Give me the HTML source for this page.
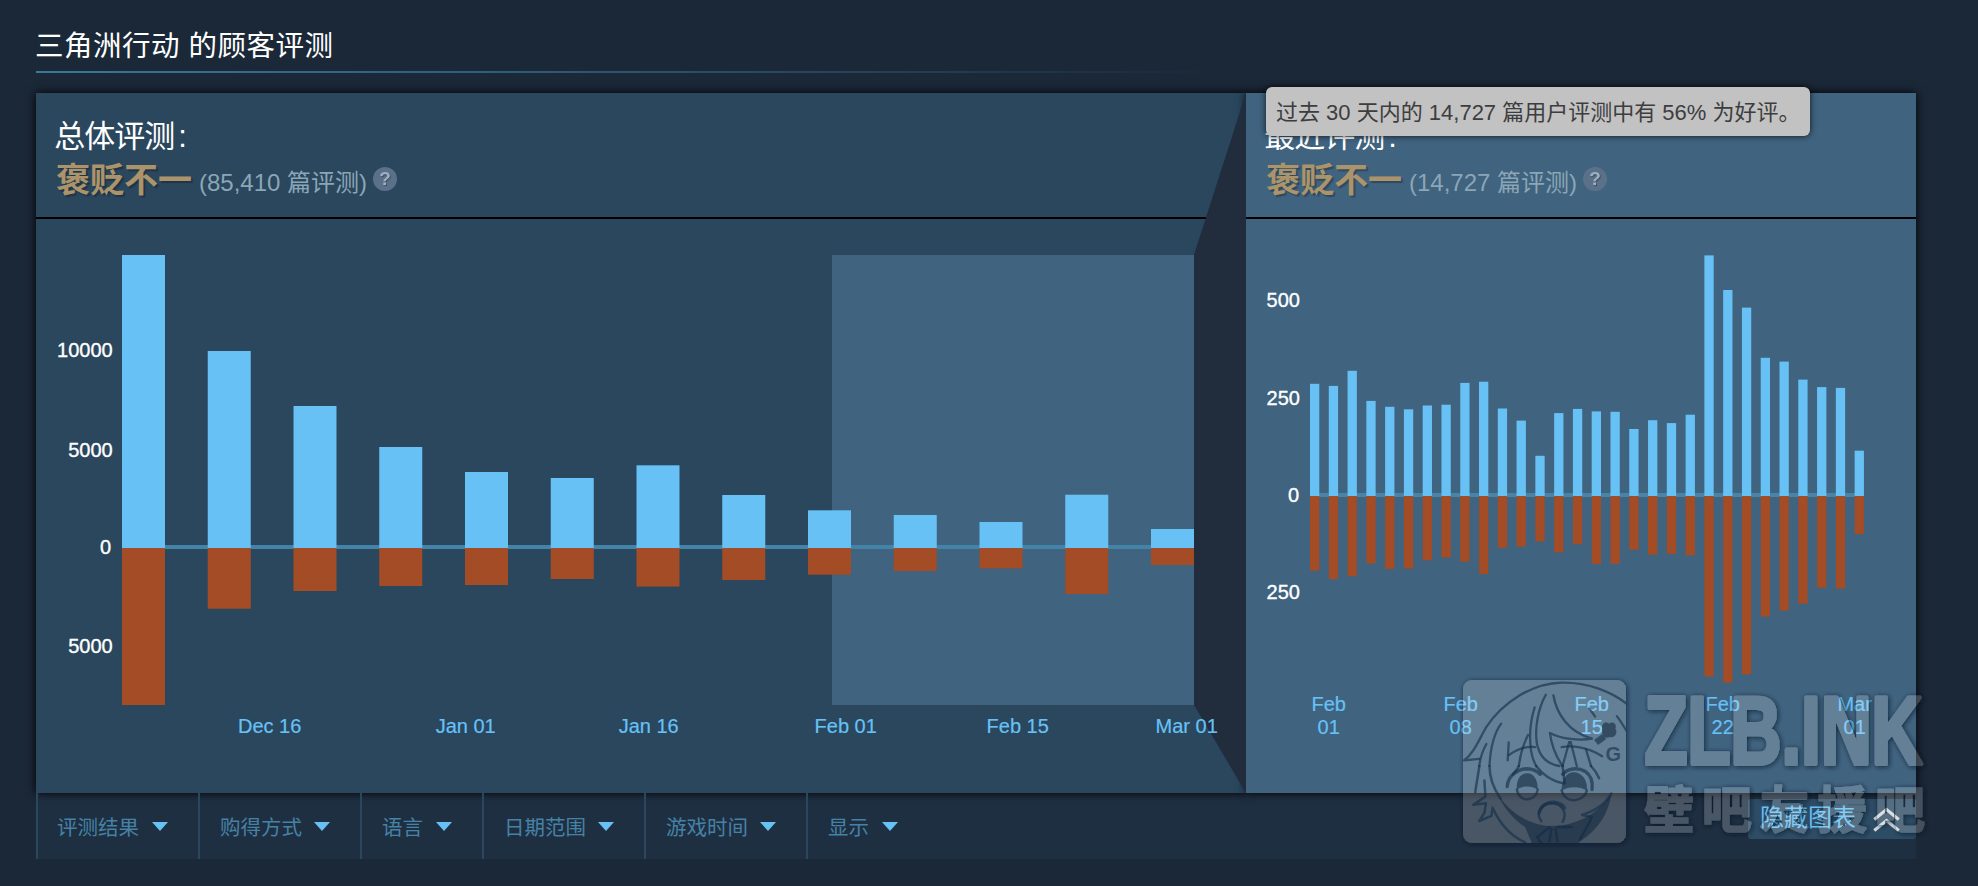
<!DOCTYPE html>
<html lang="zh-CN">
<head>
<meta charset="utf-8">
<title>三角洲行动 的顾客评测</title>
<style>
html,body{margin:0;padding:0;}
body{width:1978px;height:886px;overflow:hidden;background:#1b2838;position:relative;
 font-family:"Liberation Sans","Noto Sans CJK SC",sans-serif;color:#fff;}
.abs{position:absolute;white-space:nowrap;}
#title{left:35px;top:25.7px;font-size:28.5px;line-height:40px;letter-spacing:0.5px;color:#fff;}
#rule{left:36px;top:71px;width:1180px;height:2px;background:linear-gradient(to right,#3a7799 0%,#2e5d7a 40%,rgba(27,40,56,0) 100%);}
#panelL{left:36px;top:93px;width:1210px;height:700px;background:#2a475e;box-shadow:0 0 9px #000;}
#panelR{left:1246px;top:93px;width:670px;height:700px;background:#40637f;box-shadow:0 0 9px #000;}
.hline{height:2px;background:#000;top:217px;}
#sel{left:831.8px;top:254.7px;width:362.2px;height:450.4px;background:#40637f;}
svg{position:absolute;left:0;top:0;}
.sumtitle{font-size:31px;line-height:40px;letter-spacing:-1px;color:#fff;}
.sumtitle span{margin-left:4px;}
.sumval{font-size:34px;line-height:44px;font-weight:bold;color:#ab946b;text-shadow:2px 2px 1px rgba(0,0,0,.25);}
.sumcnt{font-size:24px;line-height:32px;color:#8ba6b6;}
.q{width:24px;height:24px;border-radius:12px;background:#5b7189;color:#9db0c2;font-size:19px;font-weight:bold;line-height:24px;text-align:center;text-shadow:1px 1px 1px rgba(0,0,0,.3);filter:blur(.5px);}
.yl{font-size:20px;line-height:24px;color:#fff;text-align:right;-webkit-text-stroke:.35px #fff;}
.xl{font-size:20px;line-height:23px;color:#67c1f5;text-align:center;-webkit-text-stroke:.2px #67c1f5;}
#filter{left:36px;top:793px;width:1880px;height:66px;background:#1f2f42;}
.fi{top:793px;height:66px;border-left:2px solid #2a475e;box-sizing:border-box;}
.ft{top:813px;font-size:20.5px;line-height:30px;color:#4582a5;}
.arr{top:822px;width:0;height:0;border-left:8px solid transparent;border-right:8px solid transparent;border-top:9px solid #67c1f5;}
#tip{left:1266px;top:87px;width:544px;height:49px;background:#c2c2c2;border-radius:6px;box-shadow:0 0 6px rgba(0,0,0,.8);color:#3d3d3f;font-size:22px;line-height:51px;text-indent:10px;}
#hide{left:1748px;top:799px;width:168px;height:40px;background:rgba(103,193,245,.2);border-radius:3px;}
#hidet{left:1760px;top:801px;font-size:24px;line-height:34px;color:#67c1f5;}

</style>
</head>
<body>
<div class="abs" id="title">三角洲行动 的顾客评测</div>
<div class="abs" id="rule"></div>
<div class="abs" id="filter"></div>
<div class="abs" id="panelL"></div>
<div class="abs" id="sel"></div>
<div class="abs" id="panelR"></div>
<div class="abs hline" style="left:36px;width:1210px;"></div>
<div class="abs hline" style="left:1246px;width:670px;"></div>
<svg width="1978" height="886" viewBox="0 0 1978 886">
<polygon points="1246,93 1246,793 1194,705.1 1194,254.7" fill="#212c3d"/>
<rect x="122" y="545" width="1072" height="4" fill="#4483a8"/>
<rect x="1310" y="493" width="554" height="4" fill="#4884a6"/>
<rect x="122.00" y="255.00" width="43" height="293.00" fill="#67c1f5"/>
<rect x="122.00" y="548.00" width="43" height="157.00" fill="#a34c25"/>
<rect x="207.75" y="351.00" width="43" height="197.00" fill="#67c1f5"/>
<rect x="207.75" y="548.00" width="43" height="60.70" fill="#a34c25"/>
<rect x="293.50" y="406.00" width="43" height="142.00" fill="#67c1f5"/>
<rect x="293.50" y="548.00" width="43" height="43.00" fill="#a34c25"/>
<rect x="379.25" y="447.00" width="43" height="101.00" fill="#67c1f5"/>
<rect x="379.25" y="548.00" width="43" height="38.00" fill="#a34c25"/>
<rect x="465.00" y="472.00" width="43" height="76.00" fill="#67c1f5"/>
<rect x="465.00" y="548.00" width="43" height="37.00" fill="#a34c25"/>
<rect x="550.75" y="478.00" width="43" height="70.00" fill="#67c1f5"/>
<rect x="550.75" y="548.00" width="43" height="31.00" fill="#a34c25"/>
<rect x="636.50" y="465.30" width="43" height="82.70" fill="#67c1f5"/>
<rect x="636.50" y="548.00" width="43" height="38.60" fill="#a34c25"/>
<rect x="722.25" y="495.00" width="43" height="53.00" fill="#67c1f5"/>
<rect x="722.25" y="548.00" width="43" height="32.00" fill="#a34c25"/>
<rect x="808.00" y="510.30" width="43" height="37.70" fill="#67c1f5"/>
<rect x="808.00" y="548.00" width="43" height="26.70" fill="#a34c25"/>
<rect x="893.75" y="515.00" width="43" height="33.00" fill="#67c1f5"/>
<rect x="893.75" y="548.00" width="43" height="23.00" fill="#a34c25"/>
<rect x="979.50" y="522.00" width="43" height="26.00" fill="#67c1f5"/>
<rect x="979.50" y="548.00" width="43" height="20.40" fill="#a34c25"/>
<rect x="1065.25" y="494.70" width="43" height="53.30" fill="#67c1f5"/>
<rect x="1065.25" y="548.00" width="43" height="46.00" fill="#a34c25"/>
<rect x="1151.00" y="529.00" width="43" height="19.00" fill="#67c1f5"/>
<rect x="1151.00" y="548.00" width="43" height="17.00" fill="#a34c25"/>
<rect x="1310.00" y="383.80" width="9.3" height="112.20" fill="#67c1f5"/>
<rect x="1310.00" y="496.00" width="9.3" height="74.70" fill="#a34c25"/>
<rect x="1328.78" y="385.90" width="9.3" height="110.10" fill="#67c1f5"/>
<rect x="1328.78" y="496.00" width="9.3" height="83.00" fill="#a34c25"/>
<rect x="1347.56" y="370.80" width="9.3" height="125.20" fill="#67c1f5"/>
<rect x="1347.56" y="496.00" width="9.3" height="80.20" fill="#a34c25"/>
<rect x="1366.34" y="400.90" width="9.3" height="95.10" fill="#67c1f5"/>
<rect x="1366.34" y="496.00" width="9.3" height="67.40" fill="#a34c25"/>
<rect x="1385.12" y="406.80" width="9.3" height="89.20" fill="#67c1f5"/>
<rect x="1385.12" y="496.00" width="9.3" height="72.90" fill="#a34c25"/>
<rect x="1403.90" y="409.30" width="9.3" height="86.70" fill="#67c1f5"/>
<rect x="1403.90" y="496.00" width="9.3" height="72.50" fill="#a34c25"/>
<rect x="1422.68" y="405.50" width="9.3" height="90.50" fill="#67c1f5"/>
<rect x="1422.68" y="496.00" width="9.3" height="64.20" fill="#a34c25"/>
<rect x="1441.46" y="404.70" width="9.3" height="91.30" fill="#67c1f5"/>
<rect x="1441.46" y="496.00" width="9.3" height="61.50" fill="#a34c25"/>
<rect x="1460.24" y="382.90" width="9.3" height="113.10" fill="#67c1f5"/>
<rect x="1460.24" y="496.00" width="9.3" height="65.60" fill="#a34c25"/>
<rect x="1479.02" y="381.70" width="9.3" height="114.30" fill="#67c1f5"/>
<rect x="1479.02" y="496.00" width="9.3" height="78.00" fill="#a34c25"/>
<rect x="1497.80" y="408.50" width="9.3" height="87.50" fill="#67c1f5"/>
<rect x="1497.80" y="496.00" width="9.3" height="51.80" fill="#a34c25"/>
<rect x="1516.58" y="420.60" width="9.3" height="75.40" fill="#67c1f5"/>
<rect x="1516.58" y="496.00" width="9.3" height="50.50" fill="#a34c25"/>
<rect x="1535.36" y="455.80" width="9.3" height="40.20" fill="#67c1f5"/>
<rect x="1535.36" y="496.00" width="9.3" height="45.40" fill="#a34c25"/>
<rect x="1554.14" y="413.10" width="9.3" height="82.90" fill="#67c1f5"/>
<rect x="1554.14" y="496.00" width="9.3" height="56.40" fill="#a34c25"/>
<rect x="1572.92" y="408.90" width="9.3" height="87.10" fill="#67c1f5"/>
<rect x="1572.92" y="496.00" width="9.3" height="48.20" fill="#a34c25"/>
<rect x="1591.70" y="411.40" width="9.3" height="84.60" fill="#67c1f5"/>
<rect x="1591.70" y="496.00" width="9.3" height="67.90" fill="#a34c25"/>
<rect x="1610.48" y="411.80" width="9.3" height="84.20" fill="#67c1f5"/>
<rect x="1610.48" y="496.00" width="9.3" height="67.90" fill="#a34c25"/>
<rect x="1629.26" y="429.00" width="9.3" height="67.00" fill="#67c1f5"/>
<rect x="1629.26" y="496.00" width="9.3" height="53.70" fill="#a34c25"/>
<rect x="1648.04" y="420.20" width="9.3" height="75.80" fill="#67c1f5"/>
<rect x="1648.04" y="496.00" width="9.3" height="58.70" fill="#a34c25"/>
<rect x="1666.82" y="423.10" width="9.3" height="72.90" fill="#67c1f5"/>
<rect x="1666.82" y="496.00" width="9.3" height="57.80" fill="#a34c25"/>
<rect x="1685.60" y="414.70" width="9.3" height="81.30" fill="#67c1f5"/>
<rect x="1685.60" y="496.00" width="9.3" height="59.20" fill="#a34c25"/>
<rect x="1704.38" y="255.40" width="9.3" height="240.60" fill="#67c1f5"/>
<rect x="1704.38" y="496.00" width="9.3" height="180.60" fill="#a34c25"/>
<rect x="1723.16" y="290.00" width="9.3" height="206.00" fill="#67c1f5"/>
<rect x="1723.16" y="496.00" width="9.3" height="186.60" fill="#a34c25"/>
<rect x="1741.94" y="307.60" width="9.3" height="188.40" fill="#67c1f5"/>
<rect x="1741.94" y="496.00" width="9.3" height="178.30" fill="#a34c25"/>
<rect x="1760.72" y="357.80" width="9.3" height="138.20" fill="#67c1f5"/>
<rect x="1760.72" y="496.00" width="9.3" height="120.60" fill="#a34c25"/>
<rect x="1779.50" y="361.60" width="9.3" height="134.40" fill="#67c1f5"/>
<rect x="1779.50" y="496.00" width="9.3" height="114.60" fill="#a34c25"/>
<rect x="1798.28" y="379.60" width="9.3" height="116.40" fill="#67c1f5"/>
<rect x="1798.28" y="496.00" width="9.3" height="107.70" fill="#a34c25"/>
<rect x="1817.06" y="387.10" width="9.3" height="108.90" fill="#67c1f5"/>
<rect x="1817.06" y="496.00" width="9.3" height="91.70" fill="#a34c25"/>
<rect x="1835.84" y="387.90" width="9.3" height="108.10" fill="#67c1f5"/>
<rect x="1835.84" y="496.00" width="9.3" height="92.60" fill="#a34c25"/>
<rect x="1854.62" y="450.70" width="9.3" height="45.30" fill="#67c1f5"/>
<rect x="1854.62" y="496.00" width="9.3" height="38.10" fill="#a34c25"/>
</svg>
<div class="abs sumtitle" style="left:54.3px;top:117.2px;">总体评测<span>:</span></div>
<div class="abs sumval" style="left:56px;top:158px;">褒贬不一</div>
<div class="abs sumcnt" style="left:199px;top:167px;">(85,410 篇评测)</div>
<div class="abs q" style="left:373px;top:167px;">?</div>
<div class="abs sumtitle" style="left:1264.3px;top:117.2px;">最近评测<span>:</span></div>
<div class="abs sumval" style="left:1266px;top:158px;">褒贬不一</div>
<div class="abs sumcnt" style="left:1409px;top:167px;">(14,727 篇评测)</div>
<div class="abs q" style="left:1583px;top:167px;">?</div>

<div class="abs yl" style="left:40.7px;width:72px;top:337.5px;">10000</div>
<div class="abs yl" style="left:40.7px;width:72px;top:437.5px;">5000</div>
<div class="abs yl" style="left:39px;width:72px;top:534.7px;">0</div>
<div class="abs yl" style="left:40.7px;width:72px;top:633.5px;">5000</div>
<div class="abs xl" style="left:219.7px;width:100px;top:714.6px;">Dec 16</div>
<div class="abs xl" style="left:415.7px;width:100px;top:714.6px;">Jan 01</div>
<div class="abs xl" style="left:598.7px;width:100px;top:714.6px;">Jan 16</div>
<div class="abs xl" style="left:795.7px;width:100px;top:714.6px;">Feb 01</div>
<div class="abs xl" style="left:967.7px;width:100px;top:714.6px;">Feb 15</div>
<div class="abs xl" style="left:1136.7px;width:100px;top:714.6px;">Mar 01</div>

<div class="abs yl" style="left:1239.9px;width:60px;top:287.5px;">500</div>
<div class="abs yl" style="left:1239.9px;width:60px;top:385.5px;">250</div>
<div class="abs yl" style="left:1239.2px;width:60px;top:483.2px;">0</div>
<div class="abs yl" style="left:1239.9px;width:60px;top:579.5px;">250</div>
<div class="abs xl" style="left:1298.7px;width:60px;top:692.6px;white-space:normal;">Feb 01</div>
<div class="abs xl" style="left:1430.7px;width:60px;top:692.6px;white-space:normal;">Feb 08</div>
<div class="abs xl" style="left:1561.7px;width:60px;top:692.6px;white-space:normal;">Feb 15</div>
<div class="abs xl" style="left:1692.7px;width:60px;top:692.6px;white-space:normal;">Feb 22</div>
<div class="abs xl" style="left:1824.7px;width:60px;top:692.6px;white-space:normal;">Mar 01</div>

<div class="abs fi" style="left:36px;width:163px;"></div>
<div class="abs fi" style="left:198px;width:163px;"></div>
<div class="abs fi" style="left:360px;width:123px;"></div>
<div class="abs fi" style="left:482px;width:163px;"></div>
<div class="abs fi" style="left:644px;width:163px;"></div>
<div class="abs fi" style="left:806px;width:120px;"></div>
<div class="abs ft" style="left:57px;">评测结果</div><div class="abs arr" style="left:152px;"></div>
<div class="abs ft" style="left:220px;">购得方式</div><div class="abs arr" style="left:314px;"></div>
<div class="abs ft" style="left:382px;">语言</div><div class="abs arr" style="left:436px;"></div>
<div class="abs ft" style="left:504px;">日期范围</div><div class="abs arr" style="left:598px;"></div>
<div class="abs ft" style="left:666px;">游戏时间</div><div class="abs arr" style="left:760px;"></div>
<div class="abs ft" style="left:828px;">显示</div><div class="abs arr" style="left:882px;"></div>

<div class="abs" id="hide"></div>
<div class="abs" id="hidet">隐藏图表</div>
<div class="abs" id="tip">过去 30 天内的 14,727 篇用户评测中有 56% 为好评。</div>
<svg width="1978" height="886" viewBox="0 0 1978 886" style="pointer-events:none">
<g fill="none" stroke="#fff" stroke-width="3.2" stroke-linecap="square" stroke-linejoin="miter" opacity=".78" style="filter:blur(.7px)">
<polyline points="1875.5,818.5 1886.5,809.5 1897.5,818.5"/>
<polyline points="1875.5,829.5 1886.5,820.5 1897.5,829.5"/>
</g>
</svg>
<svg id="wm" width="1978" height="886" viewBox="0 0 1978 886" style="pointer-events:none">
<defs>
<filter id="wsh" x="-5%" y="-10%" width="110%" height="125%">
<feComponentTransfer in="SourceAlpha" result="bin"><feFuncA type="linear" slope="8"/></feComponentTransfer>
<feGaussianBlur in="bin" stdDeviation="2.4" result="b"/>
<feOffset in="b" dx="0.5" dy="1" result="o"/>
<feComposite in="o" in2="bin" operator="out" result="ring"/>
<feComponentTransfer in="ring" result="s"><feFuncA type="linear" slope="0.75"/></feComponentTransfer>
<feFlood flood-color="#0b1826"/><feComposite in2="s" operator="in" result="sh"/>
<feMerge><feMergeNode in="sh"/><feMergeNode in="SourceGraphic"/></feMerge>
</filter>
<clipPath id="wclip"><rect x="1463" y="680" width="163" height="163" rx="9"/></clipPath>
</defs>
<g filter="url(#wsh)">
<g opacity=".19" fill="#fff" stroke="#fff" stroke-linejoin="round">
<rect x="1463" y="680" width="163" height="163" rx="9" stroke="none"/>
<text x="1644.5" y="764.3" font-family="'Liberation Sans','Noto Sans CJK SC',sans-serif" font-weight="bold" font-size="96" textLength="278" lengthAdjust="spacingAndGlyphs" stroke-width="4">ZLB.INK</text>
<text x="1644" y="828" font-family="'Noto Sans CJK SC','Liberation Sans',sans-serif" font-weight="700" font-size="50" textLength="281" lengthAdjust="spacing" stroke-width="1.6">壁吧友援吧</text>
</g>
</g>
<g clip-path="url(#wclip)">
<g fill="none" stroke="#16304a" stroke-opacity=".65" stroke-width="2.3" stroke-linecap="round" stroke-linejoin="round">
<path d="M 1630.0,706.5 C 1612.3,691.2 1586.9,682.1 1561.6,682.6 C 1531.1,683.6 1502.7,702.4 1486.4,726.8 C 1478.3,741.0 1473.2,754.2 1464.1,760.3 L 1479.3,758.8"/>
<path d="M 1501.1,723.7 C 1494.5,732.9 1490.5,745.1 1489.5,766.0"/>
<path d="M 1486.4,744.0 C 1483.4,749.1 1480.3,757.2 1479.3,766.0"/>
<path d="M 1545.8,694.8 C 1538.2,708.5 1534.1,728.8 1537.2,745.1 C 1540.2,757.2 1548.4,764.4 1559.5,766.0"/>
<path d="M 1534.6,707.5 C 1530.1,721.7 1529.1,736.9 1531.1,751.1 C 1532.1,757.2 1534.1,762.3 1536.2,766.0"/>
<path d="M 1553.4,695.3 C 1556.5,714.6 1569.7,732.9 1592.0,738.5 C 1579.8,741.0 1561.6,739.0 1549.9,732.9 C 1551.4,745.1 1556.5,757.2 1562.6,766.0"/>
<path d="M 1595.1,716.6 C 1593.0,713.6 1591.0,710.5 1589.0,708.5"/>
<path d="M 1508.7,755.2 C 1516.9,749.1 1526.0,746.1 1535.1,747.1"/>
<path d="M 1508.7,742.5 L 1507.7,760.3"/>
<path d="M 1528.0,734.9 C 1523.0,745.1 1519.9,755.2 1518.9,766.0"/>
<path d="M 1561.6,747.1 C 1571.7,745.1 1586.9,747.1 1602.2,756.2"/>
<path d="M 1569.2,742.0 L 1562.6,766.0"/>
<path d="M 1570.7,742.0 L 1576.8,766.0"/>
<path d="M 1585.9,749.1 L 1591.0,766.0"/>
<path d="M 1616.9,716.1 C 1622.5,723.7 1626.5,730.8 1630.0,736.9"/>
<g stroke-width="2.5">
<path d="M 1489.5,766.0 C 1489.5,776.3 1493.5,788.5 1500.6,798.7"/>
<path d="M 1479.3,766.0 C 1478.3,774.3 1476.2,784.4 1475.2,792.6"/>
<path d="M 1518.9,766.0 C 1517.9,768.2 1515.9,771.2 1512.8,774.3"/>
<path d="M 1536.2,766.0 C 1541.2,773.3 1551.4,781.4 1564.6,783.4 L 1562.6,766.0"/>
<path d="M 1591.0,766.0 C 1594.1,769.2 1597.1,773.3 1599.1,778.3"/>
<path d="M 1484.4,780.4 L 1485.4,796.6 L 1473.2,804.7 L 1485.9,803.2 L 1484.4,812.9 L 1479.3,821.0 L 1491.5,815.9 L 1492.5,807.8 C 1500.6,825.1 1512.8,837.2 1525.0,842.3"/>
<path d="M 1611.3,793.6 C 1606.2,802.7 1595.1,810.8 1581.9,814.9 L 1592.0,816.9 C 1586.9,827.1 1583.9,833.2 1579.8,839.3"/>
<path d="M 1541.2,821.0 C 1535.1,812.9 1541.2,803.7 1551.4,803.2 C 1562.6,803.7 1567.6,812.9 1562.6,822.0"/>
<path d="M 1516.9,789.5 C 1517.9,796.6 1523.0,799.7 1528.0,799.2 C 1533.1,798.7 1537.2,794.6 1537.7,789.5"/>
<path d="M 1561.6,790.5 C 1563.6,797.6 1569.7,800.7 1574.8,800.2 C 1580.8,799.7 1585.9,795.6 1586.9,790.5"/>
<path d="M 1549.4,827.1 L 1537.2,837.2 L 1541.2,843.3"/>
<path d="M 1557.5,827.1 L 1571.7,827.1"/>
<path d="M 1551.4,829.1 L 1549.4,841.3"/>
<path d="M 1555.5,829.1 L 1557.5,841.3"/>
</g>
<g stroke-width="3.4">
<path d="M 1507.2,786.5 C 1507.7,776.3 1516.9,769.2 1527.0,768.7 C 1533.1,768.7 1537.2,771.2 1540.2,774.3"/>
<path d="M 1562.6,774.3 C 1567.6,768.2 1577.8,767.2 1584.9,771.2 C 1591.0,775.3 1593.0,782.4 1592.0,789.5"/>
<path d="M 1539.2,812.9 C 1541.2,804.7 1548.4,801.7 1554.4,802.2 C 1559.5,802.7 1562.6,804.7 1564.6,807.8"/>
</g>
<g stroke="none" fill="#14293f" fill-opacity=".6">
<path d="M 1497.6,793.6 C 1505.7,808.8 1526.0,825.1 1551.4,826.1 C 1576.8,826.1 1600.1,812.9 1611.3,793.6 C 1609.3,812.9 1598.1,829.1 1581.9,840.3 L 1574.8,846.0 L 1533.1,846.0 L 1525.0,827.1 C 1512.8,819.0 1502.7,806.8 1497.6,793.6 Z"/>
<path d="M 1516.9,789.5 C 1515.9,779.4 1520.9,773.3 1527.0,773.3 C 1534.1,773.3 1538.2,780.4 1537.7,789.5 C 1531.1,785.5 1523.0,785.5 1516.9,789.5 Z"/>
<path d="M 1561.6,790.5 C 1561.6,779.4 1566.6,772.2 1573.7,772.2 C 1581.9,772.2 1588.0,780.4 1586.9,790.5 C 1579.8,786.0 1568.7,786.0 1561.6,790.5 Z"/>
<path d="M 1594.1,740.0 L 1602.2,733.9 L 1606.2,739.0 L 1598.1,745.1 Z"/>
<path d="M 1602.2,728.8 C 1601.2,723.7 1605.2,720.7 1609.3,723.7 C 1612.3,720.7 1617.4,723.7 1615.4,728.8 C 1618.4,732.9 1614.4,739.0 1609.3,736.9 C 1605.2,740.0 1601.2,734.9 1602.2,728.8 Z"/>
</g>
<text x="1605.5" y="760.5" font-family="'Liberation Sans',sans-serif" font-weight="bold" font-size="20" stroke="none" fill="#14293f" fill-opacity=".6">G</text>
</g>
</g>
</svg>

</body>
</html>
